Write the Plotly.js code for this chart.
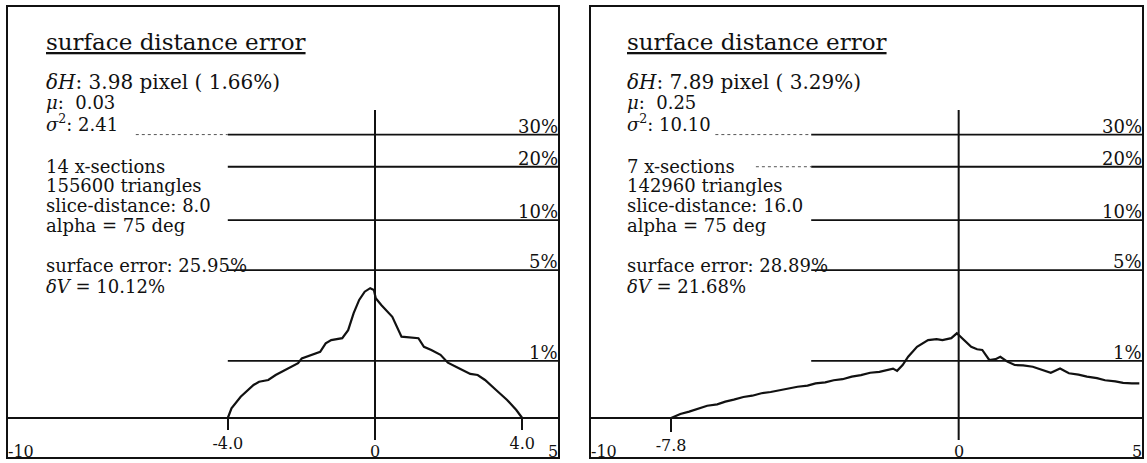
<!DOCTYPE html>
<html><head><meta charset="utf-8">
<script src="https://cdn.plot.ly/plotly-3.0.1.min.js"></script>
<style>html,body{margin:0;padding:0;background:#fff}</style>
</head><body><div id="chart" style="width:1147px;height:463px"></div>
<script>
// ---- data ----
const levels = [1, 5, 10, 20, 30];
const levelLabels = ['1%', '5%', '10%', '20%', '30%'];

const leftX = [-4.0,-3.90,-3.65,-3.30,-3.15,-2.90,-2.70,-2.44,-2.24,-2.09,-1.99,-1.79,-1.49,-1.34,-1.19,-0.89,-0.73,-0.58,-0.43,-0.28,-0.13,-0.03,0.02,0.17,0.47,0.72,0.98,1.18,1.33,1.53,1.78,1.98,2.28,2.59,2.79,2.99,3.29,3.59,3.84,4.0];
const leftP = [0,0.125,0.294,0.492,0.552,0.585,0.684,0.789,0.862,0.941,1.06,1.12,1.23,1.47,1.57,1.63,1.90,2.56,3.18,3.62,3.82,3.72,3.27,2.93,2.41,1.68,1.66,1.63,1.37,1.28,1.15,0.954,0.827,0.705,0.684,0.585,0.404,0.244,0.101,0];

const rightX = [-7.8,-7.55,-7.31,-7.05,-6.82,-6.55,-6.33,-6.10,-5.84,-5.60,-5.35,-5.10,-4.86,-4.60,-4.37,-4.10,-3.88,-3.62,-3.39,-3.15,-2.90,-2.65,-2.40,-2.15,-1.91,-1.78,-1.67,-1.52,-1.37,-1.13,-0.83,-0.60,-0.44,-0.2,-0.05,0.05,0.20,0.34,0.50,0.64,0.83,1.00,1.13,1.32,1.52,1.75,2.01,2.25,2.5,2.75,2.99,3.25,3.48,3.75,3.97,4.25,4.46,4.7,4.9];
const rightP = [0,0.05,0.08,0.12,0.16,0.18,0.22,0.25,0.29,0.31,0.35,0.37,0.40,0.43,0.46,0.48,0.52,0.54,0.58,0.60,0.65,0.68,0.73,0.75,0.80,0.82,0.77,0.90,1.10,1.37,1.57,1.60,1.57,1.63,1.79,1.68,1.52,1.37,1.30,1.28,1.02,1.04,1.10,0.98,0.90,0.89,0.86,0.80,0.73,0.82,0.72,0.69,0.65,0.62,0.58,0.56,0.53,0.52,0.52];

const leftMarks = [-4.0, 4.0];
const leftMarkText = ['-4.0', '4.0'];
const rightMarks = [-7.8];
const rightMarkText = ['-7.8'];
const edgeTicks = [-10, 0, 5];
const edgeTickText = ['-10', '0', '5'];

const leftInfo = {
  title: 'surface distance error',
  dH: '<i>δH</i>: 3.98 pixel ( 1.66%)',
  mu: '<i>μ</i>:  0.03',
  sigma: '<i>σ</i><sup>2</sup>: 2.41',
  block: ['14 x-sections', '155600 triangles', 'slice-distance: 8.0', 'alpha = 75 deg'],
  surf: 'surface error: 25.95%',
  dV: '<i>δV</i> = 10.12%'
};
const rightInfo = {
  title: 'surface distance error',
  dH: '<i>δH</i>: 7.89 pixel ( 3.29%)',
  mu: '<i>μ</i>:  0.25',
  sigma: '<i>σ</i><sup>2</sup>: 10.10',
  block: ['7 x-sections', '142960 triangles', 'slice-distance: 16.0', 'alpha = 75 deg'],
  surf: 'surface error: 28.89%',
  dV: '<i>δV</i> = 21.68%'
};

// ---- drawing ----
const W = 1147, H = 463;
const INK = '#111';
const SERIF = 'DejaVu Serif, Liberation Serif, serif';
const px = v => v / W;
const py = v => 1 - v / H;

const panels = [
  {xa: 'x', ya: 'y', dom: [7, 559], X: leftX, P: leftP, marks: leftMarks, markText: leftMarkText, info: leftInfo, tx: 45, dotted: [[-6.5, -4.0, 30]]},
  {xa: 'x2', ya: 'y2', dom: [590, 1143], X: rightX, P: rightP, marks: rightMarks, markText: rightMarkText, info: rightInfo, tx: 626, dotted: [[-6.6, -4.0, 30], [-5.5, -4.0, 20]]}
];

const traces = [];
const shapes = [];
const annotations = [];
const layout = {
  width: W, height: H,
  margin: {l: 0, r: 0, t: 0, b: 0},
  paper_bgcolor: '#fff', plot_bgcolor: '#fff',
  showlegend: false,
  font: {family: SERIF, color: INK}
};

panels.forEach((p, i) => {
  const xk = i === 0 ? 'xaxis' : 'xaxis2';
  const yk = i === 0 ? 'yaxis' : 'yaxis2';
  layout[xk] = {
    domain: [px(p.dom[0]), px(p.dom[1])], range: [-10, 5],
    anchor: 'free', position: (H - 418) / H,
    showline: false, showgrid: false, zeroline: false,
    ticks: 'outside', ticklen: i === 0 ? 11 : 13, tickwidth: 2, tickcolor: INK,
    tickmode: 'array', tickvals: p.marks, ticktext: p.markText,
    tickfont: {family: SERIF, size: 16, color: INK}
  };
  layout[yk] = {
    domain: [1 - 458 / H, 1 - 6 / H], type: 'log', range: [-0.2105, 2.168],
    visible: false, anchor: p.xa
  };

  traces.push({
    x: p.X, y: p.P.map(v => 1 + v), xaxis: p.xa, yaxis: p.ya,
    mode: 'lines', line: {color: INK, width: 2.2}, hoverinfo: 'skip'
  });

  // frame
  shapes.push({type: 'rect', xref: p.xa + ' domain', yref: p.ya + ' domain', x0: 0, x1: 1, y0: 0, y1: 1,
    line: {color: INK, width: 2}});
  // baseline (0%)
  shapes.push({type: 'line', xref: p.xa, yref: p.ya, x0: -10, x1: 5, y0: 1, y1: 1, line: {color: INK, width: 2}});
  // level lines
  levels.forEach((lv, k) => {
    shapes.push({type: 'line', xref: p.xa, yref: p.ya, x0: -4.0, x1: 5, y0: 1 + lv, y1: 1 + lv,
      line: {color: INK, width: 1.8}});
    annotations.push({xref: p.xa, yref: p.ya, x: 5, y: Math.log10(1 + lv), xanchor: 'right', yanchor: 'bottom',
      text: levelLabels[k], showarrow: false, font: {family: SERIF, size: 18, color: INK}, borderpad: 0, yshift: -3});
  });
  // dotted scan traces
  p.dotted.forEach(d => {
    shapes.push({type: 'line', xref: p.xa, yref: p.ya, x0: d[0], x1: d[1], y0: 1 + d[2], y1: 1 + d[2],
      line: {color: '#555', width: 1, dash: 'dot'}});
  });
  // vertical zero line
  shapes.push({type: 'line', xref: p.xa, yref: p.ya + ' domain', x0: 0, x1: 0, y0: 0.0398, y1: 0.770,
    line: {color: INK, width: 2}});

  // bottom edge tick labels
  edgeTicks.forEach((t, k) => {
    annotations.push({xref: p.xa, yref: 'paper', x: t, y: py(451),
      xanchor: k === 0 ? 'left' : (k === 2 ? 'right' : 'center'), yanchor: 'middle',
      text: edgeTickText[k], showarrow: false, font: {family: SERIF, size: 16, color: INK}, borderpad: 0});
  });

  // text block
  const txt = (text, y, size) => annotations.push({xref: 'paper', yref: 'paper', x: px(p.tx), y: py(y),
    xanchor: 'left', yanchor: 'middle', align: 'left', text: text, showarrow: false,
    font: {family: SERIF, size: size, color: INK}, borderpad: 0});
  txt('<u>' + p.info.title + '</u>', 42, 23);
  txt(p.info.dH, 82, 20);
  txt(p.info.mu, 103, 18);
  txt(p.info.sigma, 123, 18);
  p.info.block.forEach((b, k) => txt(b, 166 + k * 19.8, 18));
  txt(p.info.surf, 265, 18);
  txt(p.info.dV, 286, 18);
});

layout.shapes = shapes;
layout.annotations = annotations;

Plotly.newPlot('chart', traces, layout, {staticPlot: true, displayModeBar: false});
</script>
</body></html>
